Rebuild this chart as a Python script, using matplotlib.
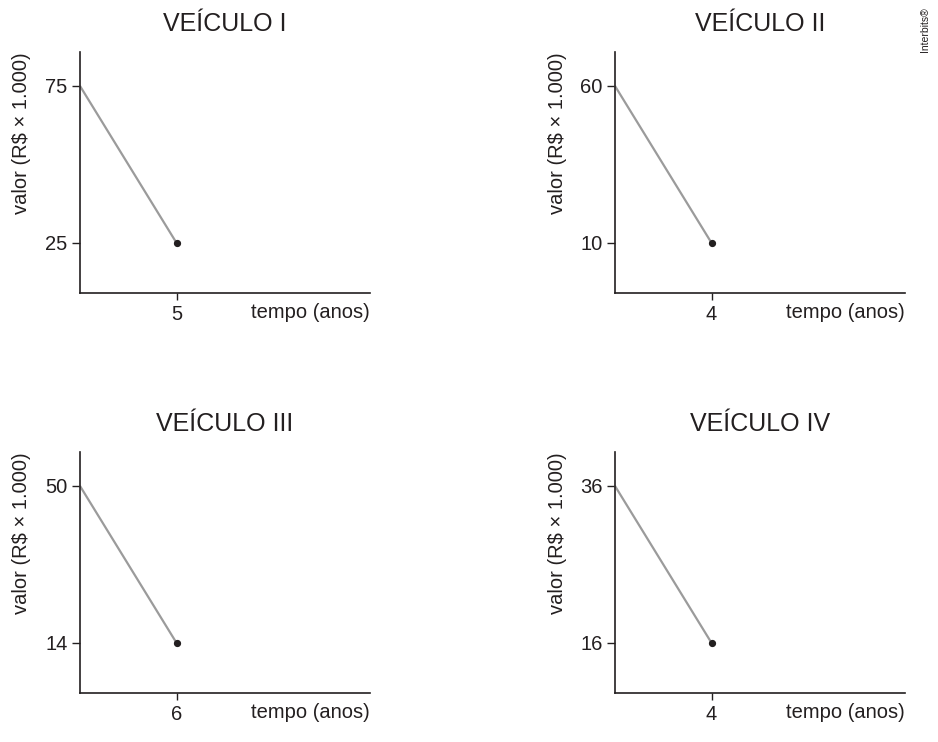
import matplotlib
matplotlib.use('agg')
import matplotlib.pyplot as plt

plt.rcParams['font.family'] = ['Liberation Sans', 'DejaVu Sans']

# data
titles = ['VEÍCULO I', 'VEÍCULO II', 'VEÍCULO III', 'VEÍCULO IV']
start_values = [75, 60, 50, 36]   # valor at tempo 0
end_values = [25, 10, 14, 16]     # valor at the end time
end_times = [5, 4, 6, 4]          # tempo (anos)

W, H = 938, 742
fig = plt.figure(figsize=(W / 100, H / 100), dpi=100)

# axes boxes in pixels: (left, top)
boxes = [(80, 52), (615, 52), (80, 452), (615, 452)]
ax_w, ax_h = 290, 241
# where the labelled ticks sit inside each axes (fractions)
y_hi, y_lo = 0.859, 0.2075
x_tick = 0.333

ink = '#231f20'

for i in range(4):
    left, top = boxes[i]
    ax = fig.add_axes([left / W, 1 - (top + ax_h) / H, ax_w / W, ax_h / H])
    v0, v1, t = start_values[i], end_values[i], end_times[i]

    span = (v0 - v1) / (y_hi - y_lo)
    ymin = v1 - y_lo * span
    ax.set_ylim(ymin, ymin + span)
    ax.set_xlim(0, t / x_tick)

    ax.plot([0, t], [v0, v1], color='#9b9b9b', lw=1.6, solid_capstyle='butt', clip_on=False)
    ax.plot([t], [v1], 'o', color=ink, ms=4.2, clip_on=False)

    for s in ['top', 'right']:
        ax.spines[s].set_visible(False)
    for s in ['left', 'bottom']:
        ax.spines[s].set_color(ink)
        ax.spines[s].set_linewidth(1.2)

    ax.set_yticks([v1, v0])
    ax.set_xticks([t])
    ax.tick_params(axis='y', length=6, width=1.0, color=ink, pad=3, labelsize=14.5, labelcolor=ink)
    ax.tick_params(axis='x', length=5, width=1.0, color=ink, pad=3.5, labelsize=14.5, labelcolor=ink)

    ax.set_title(titles[i], fontsize=18, color=ink, pad=15)

    ax.text(1.0, -0.04, 'tempo (anos)', transform=ax.transAxes,
            ha='right', va='top', fontsize=14.5, color=ink)
    ax.text(-0.2, 1.0, 'valor (R$ × 1.000)', transform=ax.transAxes,
            ha='center', va='top', rotation=90, fontsize=14.5, color=ink)

fig.text(925 / W, 1 - 7 / H, 'Interbits®', rotation=90, ha='center', va='top',
         fontsize=7.5, color=ink)

fig.savefig('out.png', dpi=100)
